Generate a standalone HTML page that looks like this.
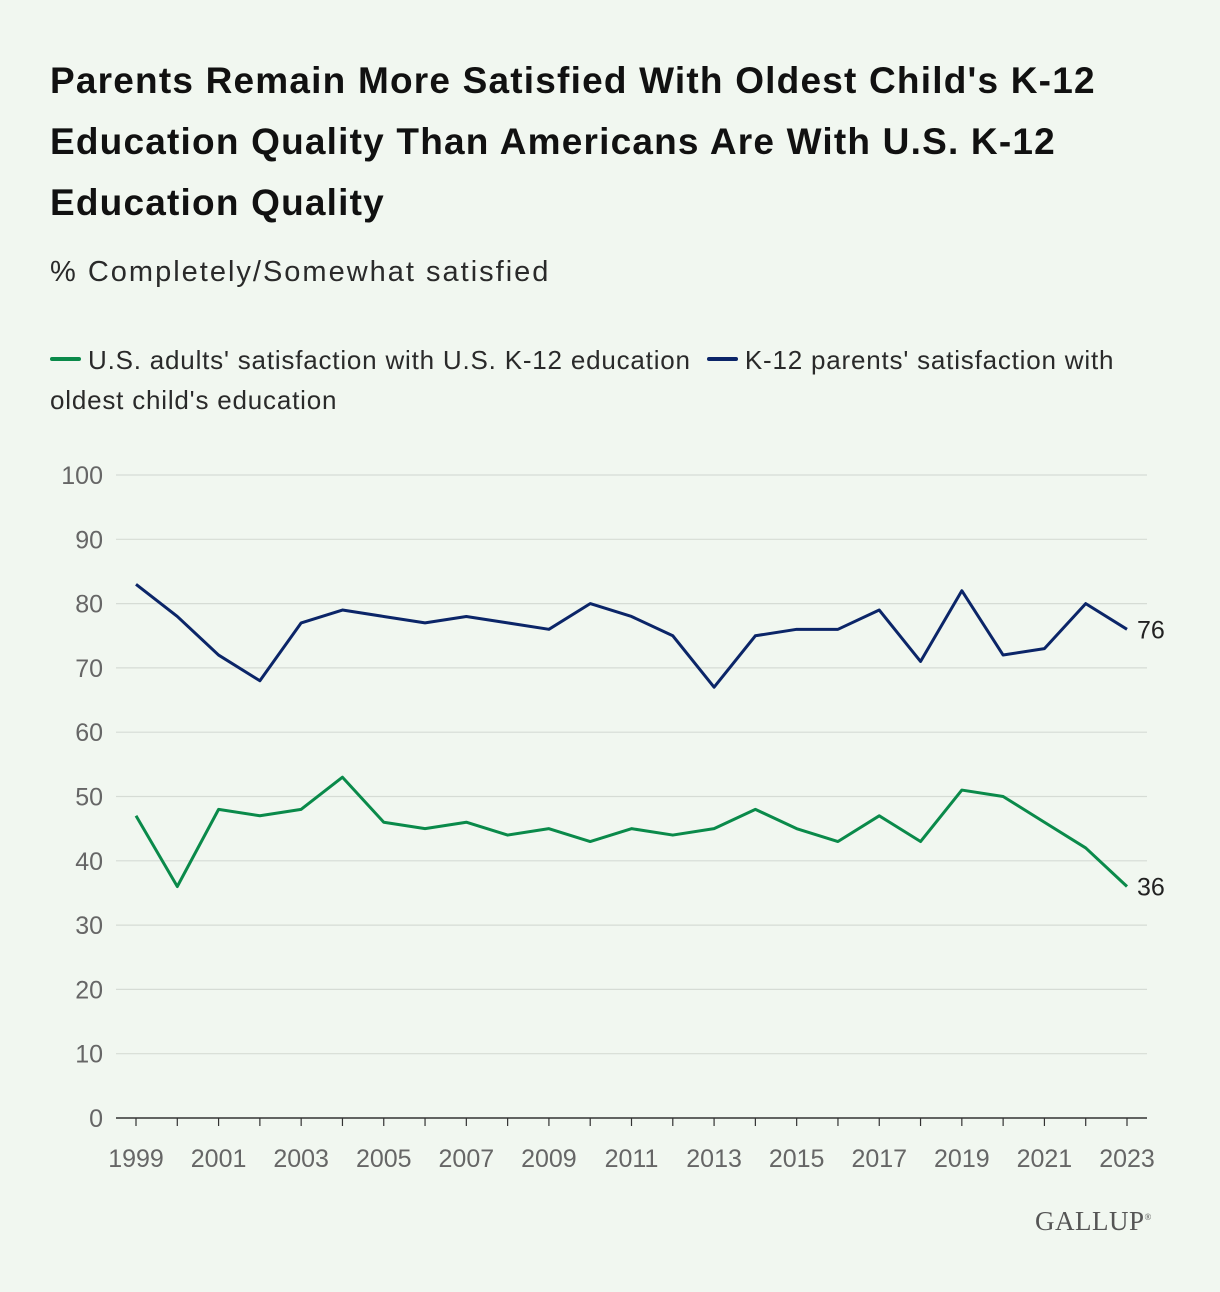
<!DOCTYPE html>
<html><head><meta charset="utf-8"><style>
body{margin:0;background:#f1f7f0;font-family:"Liberation Sans",sans-serif;}
#wrap{position:relative;width:1220px;height:1292px;background:#f1f7f0;overflow:hidden}
h1{position:absolute;left:50px;top:50px;margin:0;font-size:37px;line-height:61px;font-weight:bold;color:#111;white-space:nowrap;letter-spacing:1.2px}
.sub{position:absolute;left:50px;top:256px;font-size:29px;color:#2a2a2a;letter-spacing:2px}
.leg{position:absolute;left:50px;top:340px;font-size:26px;line-height:40px;color:#2a2a2a;white-space:nowrap;letter-spacing:0.8px}
.sw{display:inline-block;width:31px;height:4px;border-radius:2px;vertical-align:middle;margin-right:7px;position:relative;top:-3px}
svg{position:absolute;left:0;top:0}
</style></head><body>
<div id="wrap">
<h1>Parents Remain More Satisfied With Oldest Child's K-12<br>Education Quality Than Americans Are With U.S. K-12<br>Education Quality</h1>
<div class="sub">% Completely/Somewhat satisfied</div>
<div class="leg"><span><span class="sw" style="background:#0a8a4a"></span>U.S. adults' satisfaction with U.S. K-12 education</span>&nbsp; <span><span class="sw" style="background:#0b2568"></span>K-12 parents' satisfaction with<br>oldest child's education</span></div>
<svg id="chart" width="1220" height="1292"></svg>
<div style="position:absolute;left:1035px;top:1206px;font-family:'Liberation Serif',serif;font-size:27px;color:#555;letter-spacing:0.5px">GALLUP<sup style="font-size:9px">®</sup></div>
</div>
<script>
const years=[1999,2000,2001,2002,2003,2004,2005,2006,2007,2008,2009,2010,2011,2012,2013,2014,2015,2016,2017,2018,2019,2020,2021,2022,2023];
const parents=[83,78,72,68,77,79,78,77,78,77,76,80,78,75,67,75,76,76,79,71,82,72,73,80,76];
const adults=[47,36,48,47,48,53,46,45,46,44,45,43,45,44,45,48,45,43,47,43,51,50,46,42,36];
const yTicks=[0,10,20,30,40,50,60,70,80,90,100];
const xTickLabels=[1999,2001,2003,2005,2007,2009,2011,2013,2015,2017,2019,2021,2023];
const svg=document.getElementById('chart');const NS='http://www.w3.org/2000/svg';
const x=v=>136+(v-1999)*(1127-136)/24;
const y=v=>1118-v*6.43;
function mk(t,a){const e=document.createElementNS(NS,t);for(const k in a)e.setAttribute(k,a[k]);svg.appendChild(e);return e;}
yTicks.forEach(v=>{
 const l=mk('line',{x1:116,x2:1147,y1:y(v),y2:y(v),stroke:v===0?'#333':'#d6dcd5','stroke-width':v===0?1.5:1.2});
 
 
 const t=mk('text',{x:103,y:y(v)+9,'text-anchor':'end','font-size':25,fill:'#666','font-family':'Liberation Sans, sans-serif'});
 t.textContent=v;
 
 
});
years.forEach(v=>{
 const l=mk('line',{x1:x(v),x2:x(v),y1:1118,y2:1126,stroke:'#333','stroke-width':1.2});
 
 
});
xTickLabels.forEach(v=>{
 const t=mk('text',{x:x(v),y:1167,'text-anchor':'middle','font-size':25,fill:'#666','font-family':'Liberation Sans, sans-serif'});
 t.textContent=v;
 
 
});
function series(data,color,name){
 const p=mk('polyline',{points:data.map((v,i)=>x(years[i])+','+y(v)).join(' '),fill:'none',stroke:color,'stroke-width':3,'stroke-linejoin':'round'});
 
 
 const last=data[data.length-1];
 const t=mk('text',{x:x(years[years.length-1])+10,y:y(last)+9,'font-size':25,fill:'#222','font-family':'Liberation Sans, sans-serif'});
 t.textContent=last;
 
 
}
series(parents,'#0b2568','parents');
series(adults,'#0a8a4a','adults');
</script>
</body></html>
